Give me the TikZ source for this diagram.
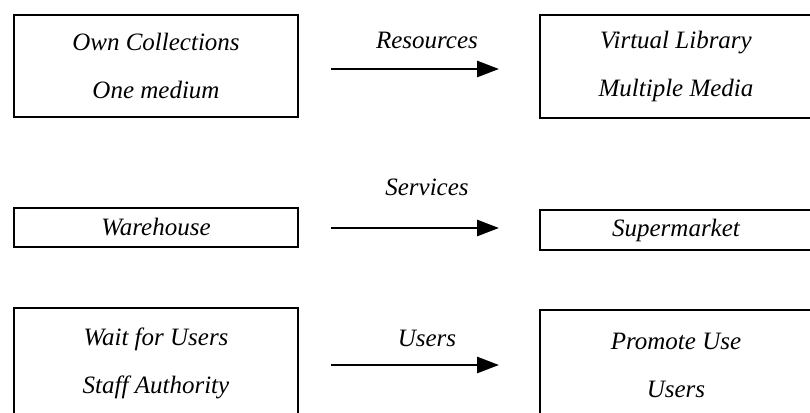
\documentclass[tikz,border=0pt]{standalone}
\usepackage{fontspec}
\setmainfont{Liberation Serif}
\usetikzlibrary{arrows.meta, positioning, calc}

\begin{document}
\begin{tikzpicture}[x=0.5pt, y=-0.5pt,
    every node/.style={font=\itshape\fontsize{12.5}{24}\selectfont, align=center},
    block/.style={draw, line width=1pt, inner sep=0pt},
    flow/.style={line width=1.4pt, -{Triangle[length=11pt, width=8pt]},
        shorten <=16pt, shorten >=20pt}]
    \useasboundingbox (0,0) rectangle (810,413);
    \clip (0,0) rectangle (810,413);
    % old model on the left, new model on the right
    \node[block, minimum width=142pt, minimum height=51pt] (own) at (156,66)
        {Own Collections\\One medium};
    \node[block, minimum width=136pt, minimum height=51.5pt] (virtual) at (676,66.5)
        {Virtual Library\\Multiple Media};
    \node[block, minimum width=142pt, minimum height=19.5pt] (warehouse) at (156,227.5)
        {Warehouse};
    \node[block, minimum width=136pt, minimum height=20pt] (supermarket) at (676,230)
        {Supermarket};
    \node[block, minimum width=142pt, minimum height=55pt] (wait) at (156,363)
        {Wait for Users\\Staff Authority};
    \node[block, minimum width=136pt, minimum height=55pt] (promote) at (676,365)
        {Promote Use\\Users};
    % what changes between the two
    \node (resources) at (427,40) {Resources};
    \node (services) at (427,187) {Services};
    \node (users) at (427,338) {Users};
    \draw[flow] (own.east |- 0,69) -- (virtual.west |- 0,69);
    \draw[flow] (warehouse.east |- 0,228) -- (supermarket.west |- 0,228);
    \draw[flow] (wait.east |- 0,365) -- (promote.west |- 0,365);
\end{tikzpicture}
\end{document}
